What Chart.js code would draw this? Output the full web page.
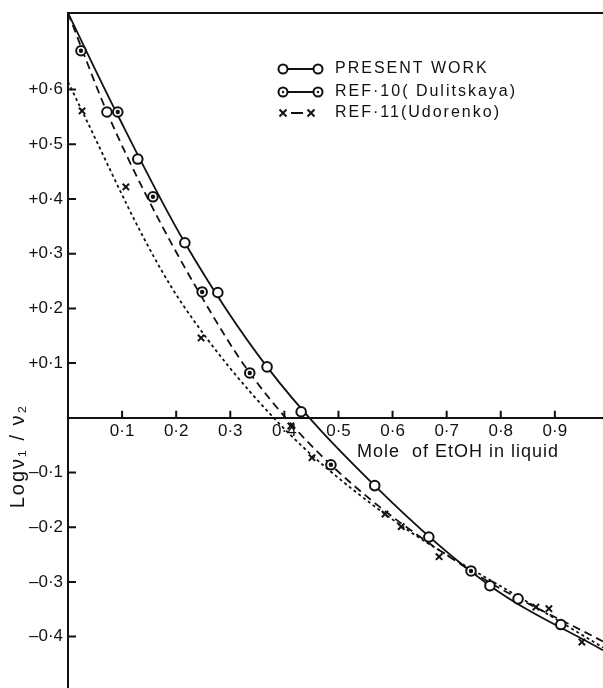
<!DOCTYPE html>
<html>
<head>
<meta charset="utf-8">
<script src="https://cdn.jsdelivr.net/npm/chart.js@4.4.1/dist/chart.umd.min.js"></script>
<style>
  html, body { margin: 0; padding: 0; background: #fff; }
  #chart { display: block; }
</style>
</head>
<body>
<canvas id="chart" width="603" height="688"></canvas>
<script>
// Log(v1/v2) against mole fraction of EtOH in liquid

const X_TICKS = [0.1, 0.2, 0.3, 0.4, 0.5, 0.6, 0.7, 0.8, 0.9];
const Y_TICKS = [0.6, 0.5, 0.4, 0.3, 0.2, 0.1, -0.1, -0.2, -0.3, -0.4];

// measured points
const presentX = [0.072, 0.129, 0.216, 0.277, 0.368, 0.431, 0.567, 0.667, 0.780, 0.832, 0.911];
const presentY = [0.559, 0.473, 0.320, 0.229, 0.093, 0.011, -0.124, -0.218, -0.307, -0.331, -0.378];

const dulitskayaX = [0.024, 0.092, 0.157, 0.248, 0.336, 0.486, 0.745];
const dulitskayaY = [0.671, 0.559, 0.404, 0.230, 0.082, -0.086, -0.280];

const udorenkoX = [0.026, 0.107, 0.246, 0.412, 0.451, 0.586, 0.616, 0.686, 0.865, 0.889, 0.950];
const udorenkoY = [0.561, 0.422, 0.146, -0.015, -0.073, -0.176, -0.199, -0.254, -0.346, -0.349, -0.410];

// fitted curves
const presentCurveX = [0, 0.089, 0.216, 0.368, 0.567, 0.780, 0.989];
const presentCurveY = [0.74, 0.559, 0.320, 0.093, -0.124, -0.307, -0.425];

const dulitskayaCurveX = [0, 0.072, 0.146, 0.243, 0.336, 0.486, 0.745, 0.989];
const dulitskayaCurveY = [0.74, 0.559, 0.404, 0.228, 0.082, -0.086, -0.280, -0.409];

const udorenkoCurveX = [0, 0.026, 0.142, 0.210, 0.384, 0.586, 0.865, 0.989];
const udorenkoCurveY = [0.614, 0.561, 0.325, 0.210, -0.004, -0.176, -0.346, -0.420];

const INK = '#111';
const FONT = '"Liberation Sans", Arial, sans-serif';

const pts = (xs, ys) => xs.map((x, i) => ({ x, y: ys[i] }));
const dotted = (v) => Math.abs(v).toFixed(1).replace('.', '·');

function curve(xs, ys, dash) {
  return {
    data: pts(xs, ys),
    showLine: true,
    borderColor: INK,
    borderWidth: 1.8,
    borderDash: dash,
    pointRadius: 0,
    cubicInterpolationMode: 'monotone',
    fill: false,
    order: 5,
  };
}

function markers(xs, ys, style, radius, fillColor, order) {
  return {
    data: pts(xs, ys),
    showLine: false,
    pointStyle: style,
    pointRadius: radius,
    pointBorderWidth: 2,
    pointBorderColor: INK,
    pointBackgroundColor: fillColor,
    order,
  };
}

// keep the plot area flush with the canvas edges, as in the scan
function noPadding(s) {
  s.paddingTop = 0;
  s.paddingBottom = 0;
  s.paddingLeft = 0;
  s.paddingRight = 0;
}

// inward tick marks, frame top, axis titles and the key
const decor = {
  id: 'decor',
  afterDraw(chart) {
    const { ctx, chartArea } = chart;
    const xs = chart.scales.x;
    const ys = chart.scales.y;
    const y0 = ys.getPixelForValue(0);

    ctx.save();
    ctx.strokeStyle = INK;
    ctx.fillStyle = INK;
    ctx.lineWidth = 2;

    ctx.beginPath();
    X_TICKS.forEach((v) => {
      const px = xs.getPixelForValue(v);
      ctx.moveTo(px, y0);
      ctx.lineTo(px, y0 - 7);
    });
    Y_TICKS.forEach((v) => {
      const py = ys.getPixelForValue(v);
      ctx.moveTo(chartArea.left, py);
      ctx.lineTo(chartArea.left + 8, py);
    });
    ctx.moveTo(chartArea.left - 1, chartArea.top);
    ctx.lineTo(chartArea.right, chartArea.top);
    ctx.stroke();

    // x title
    ctx.font = '18px ' + FONT;
    ctx.letterSpacing = '1px';
    ctx.textAlign = 'left';
    ctx.textBaseline = 'middle';
    ctx.fillText('Mole  of EtOH in liquid', 357, 452);

    // y title
    ctx.save();
    ctx.translate(18, 456);
    ctx.rotate(-Math.PI / 2);
    ctx.textAlign = 'center';
    ctx.font = '20px ' + FONT;
    ctx.letterSpacing = '2px';
    ctx.fillText('Logν₁ / ν₂', 0, 0);
    ctx.restore();

    // key
    const rows = [
      { y: 69, kind: 'open', text: 'PRESENT WORK' },
      { y: 92, kind: 'dot', text: 'REF·10( Dulitskaya)' },
      { y: 113, kind: 'cross', text: 'REF·11(Udorenko)' },
    ];
    ctx.lineWidth = 2;
    rows.forEach((r) => {
      if (r.kind === 'cross') {
        [283, 311].forEach((cx) => {
          ctx.beginPath();
          ctx.moveTo(cx - 3.5, r.y - 3.5);
          ctx.lineTo(cx + 3.5, r.y + 3.5);
          ctx.moveTo(cx + 3.5, r.y - 3.5);
          ctx.lineTo(cx - 3.5, r.y + 3.5);
          ctx.stroke();
        });
        ctx.beginPath();
        ctx.moveTo(291, r.y);
        ctx.lineTo(303, r.y);
        ctx.stroke();
      } else {
        ctx.beginPath();
        ctx.moveTo(288, r.y);
        ctx.lineTo(313, r.y);
        ctx.stroke();
        [283, 318].forEach((cx) => {
          ctx.beginPath();
          ctx.arc(cx, r.y, 4.5, 0, Math.PI * 2);
          ctx.fillStyle = '#fff';
          ctx.fill();
          ctx.stroke();
          if (r.kind === 'dot') {
            ctx.beginPath();
            ctx.arc(cx, r.y, 1.2, 0, Math.PI * 2);
            ctx.fillStyle = INK;
            ctx.fill();
          }
        });
      }
      ctx.fillStyle = INK;
      ctx.font = '16px ' + FONT;
      ctx.letterSpacing = '2px';
      ctx.textAlign = 'left';
      ctx.fillText(r.text, 335, r.y);
    });

    ctx.restore();
  },
};

new Chart(document.getElementById('chart'), {
  type: 'scatter',
  data: {
    datasets: [
      markers(dulitskayaX, dulitskayaY, 'circle', 1.2, INK, 0),
      markers(presentX, presentY, 'circle', 4.8, '#fff', 1),
      markers(dulitskayaX, dulitskayaY, 'circle', 4.8, '#fff', 2),
      markers(udorenkoX, udorenkoY, 'crossRot', 4.5, INK, 3),
      curve(presentCurveX, presentCurveY, []),
      curve(dulitskayaCurveX, dulitskayaCurveY, [8, 5]),
      curve(udorenkoCurveX, udorenkoCurveY, [3, 3]),
    ],
  },
  options: {
    responsive: false,
    animation: false,
    layout: { autoPadding: false, padding: { top: 13, right: 0, bottom: 0, left: 0 } },
    plugins: { legend: { display: false }, tooltip: { enabled: false } },
    scales: {
      x: {
        type: 'linear',
        min: 0,
        max: 0.989,
        position: { y: 0 },
        grid: { display: false, drawTicks: false },
        border: { display: true, width: 2, color: INK },
        afterBuildTicks: (s) => { s.ticks = X_TICKS.map((v) => ({ value: v })); },
        afterFit: noPadding,
        ticks: {
          autoSkip: false,
          maxRotation: 0,
          padding: 3,
          color: INK,
          font: { family: FONT, size: 17 },
          callback: (v) => dotted(v),
        },
      },
      y: {
        type: 'linear',
        min: -0.494,
        max: 0.74,
        afterFit: (s) => { s.width = 68; noPadding(s); },
        grid: { display: false, drawTicks: false },
        border: { display: true, width: 2, color: INK },
        afterBuildTicks: (s) => { s.ticks = Y_TICKS.map((v) => ({ value: v })); },
        ticks: {
          autoSkip: false,
          padding: 5,
          color: INK,
          font: { family: FONT, size: 17 },
          callback: (v) => (v > 0 ? '+' : '–') + dotted(v),
        },
      },
    },
  },
  plugins: [decor],
});
</script>
</body>
</html>
